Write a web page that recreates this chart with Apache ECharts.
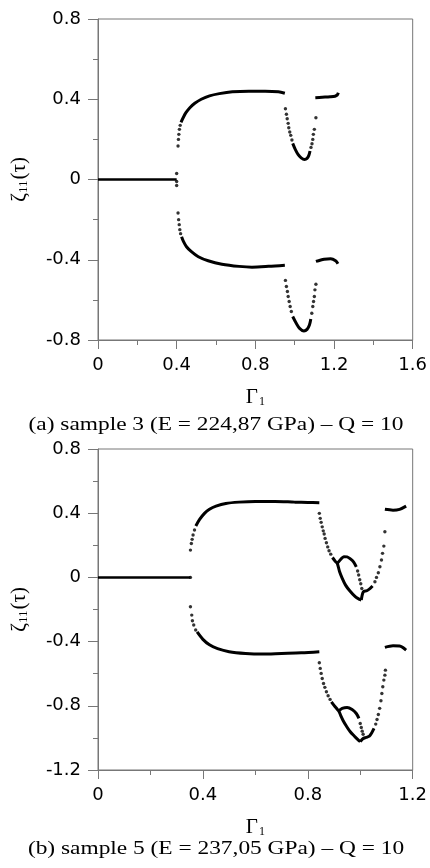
<!DOCTYPE html>
<html>
<head>
<meta charset="utf-8">
<script src="https://cdn.jsdelivr.net/npm/echarts@6/dist/echarts.min.js"></script>
<style>
html,body{margin:0;padding:0;background:#fff;}
#chart{width:430px;height:868px;}
</style>
</head>
<body>
<div id="chart"></div>
<script>
// ---------- axis ticks ----------
var xTicksA = [0, 0.4, 0.8, 1.2, 1.6];
var yTicksA = [-0.8, -0.4, 0, 0.4, 0.8];
var xTicksB = [0, 0.4, 0.8, 1.2];
var yTicksB = [-1.2, -0.8, -0.4, 0, 0.4, 0.8];

var captionA = '(a) sample 3 (E = 224,87 GPa) \u2013 Q = 10';
var captionB = '(b) sample 5 (E = 237,05 GPa) \u2013 Q = 10';

// ---------- panel (a) : sample 3 ----------
var aZero = [[0,0],[0.4,0]];
var aZeroDots = [[0.4,0.03],[0.4,-0.01],[0.4,-0.03]];
var aUpperDots = [[0.407,0.167],[0.409,0.2],[0.411,0.225],[0.414,0.25],[0.418,0.27]];
var aUpper = [[0.422,0.285],[0.433,0.308],[0.447,0.333],[0.467,0.358],[0.492,0.38],[0.525,0.40],[0.567,0.417],[0.617,0.428],[0.683,0.437],[0.767,0.44],[0.85,0.44],[0.917,0.437],[0.95,0.43]];
var aDipUpDots = [[0.953,0.353],[0.958,0.325],[0.962,0.303],[0.967,0.28],[0.97,0.258],[0.975,0.237],[0.98,0.22],[0.986,0.197],
                  [1.083,0.16],[1.088,0.178],[1.092,0.2],[1.095,0.225],[1.1,0.25],[1.108,0.308]];
var aDipUp = [[0.99,0.18],[1.003,0.15],[1.017,0.125],[1.033,0.108],[1.05,0.10],[1.063,0.105],[1.072,0.12],[1.078,0.142]];
var aUpperShort = [[1.105,0.408],[1.14,0.41],[1.18,0.412],[1.205,0.415],[1.217,0.422],[1.222,0.432]];
var aLowerDots = [[0.407,-0.167],[0.41,-0.2],[0.413,-0.225],[0.416,-0.25],[0.42,-0.27]];
var aLower = [[0.425,-0.285],[0.435,-0.31],[0.45,-0.335],[0.475,-0.36],[0.51,-0.385],[0.56,-0.405],[0.63,-0.422],[0.717,-0.433],[0.783,-0.437],[0.867,-0.433],[0.95,-0.427]];
var aDipLoDots = [[0.953,-0.503],[0.958,-0.533],[0.963,-0.558],[0.967,-0.583],[0.972,-0.608],[0.977,-0.633],[0.983,-0.658],
                  [1.087,-0.667],[1.092,-0.633],[1.096,-0.608],[1.1,-0.583],[1.103,-0.55],[1.108,-0.522]];
var aDipLo = [[0.99,-0.683],[1.008,-0.717],[1.025,-0.742],[1.047,-0.755],[1.063,-0.747],[1.075,-0.725],[1.082,-0.695]];
var aLowerShort = [[1.108,-0.408],[1.15,-0.397],[1.183,-0.395],[1.208,-0.405],[1.22,-0.42]];

// ---------- panel (b) : sample 5 ----------
var bZero = [[0,0],[0.3525,0]];
var bZeroDots = [[0.3525,0]];
var bUpperDots = [[0.3525,0.17],[0.356,0.211],[0.359,0.237],[0.3625,0.264],[0.368,0.295]];
var bUpper = [[0.373,0.32],[0.3875,0.361],[0.406,0.399],[0.425,0.424],[0.45,0.444],[0.4875,0.461],[0.5375,0.469],[0.6,0.473],[0.675,0.473],[0.75,0.469],[0.8,0.467],[0.844,0.465]];
var bDipUpDots = [[0.844,0.399],[0.8475,0.368],[0.851,0.343],[0.855,0.315],[0.859,0.29],[0.8625,0.27],[0.866,0.243],[0.871,0.216],[0.876,0.19],[0.881,0.166],[0.8875,0.145],
                  [0.99,0.04],[0.994,0.015],[0.998,-0.015],[1.002,-0.04],[1.006,-0.069],
                  [1.056,-0.027],[1.062,0.0],[1.069,0.029],[1.075,0.066],[1.081,0.108],[1.085,0.15],[1.09,0.195],[1.094,0.284]];
var bDipUp = [[0.894,0.124],[0.905,0.1],[0.9125,0.087],[0.921,0.037],[0.931,-0.004],[0.944,-0.048],[0.96,-0.083],[0.981,-0.12],[0.9975,-0.137],[1.004,-0.141]];
var bLoopUp = [[0.9125,0.087],[0.925,0.112],[0.9375,0.129],[0.95,0.128],[0.9625,0.115],[0.975,0.095],[0.985,0.065]];
var bRightUp = [[1.004,-0.141],[1.012,-0.09],[1.025,-0.083],[1.038,-0.068],[1.047,-0.054]];
var bUpperShort = [[1.094,0.424],[1.125,0.419],[1.15,0.424],[1.175,0.444]];
var bLowerDots = [[0.3525,-0.183],[0.3575,-0.235],[0.36,-0.27],[0.365,-0.297],[0.3725,-0.328]];
var bLower = [[0.378,-0.34],[0.4,-0.386],[0.425,-0.42],[0.456,-0.444],[0.5,-0.463],[0.5625,-0.474],[0.625,-0.478],[0.7,-0.474],[0.775,-0.47],[0.844,-0.463]];
var bDipLoDots = [[0.844,-0.532],[0.8475,-0.567],[0.851,-0.598],[0.855,-0.63],[0.86,-0.661],[0.865,-0.685],[0.871,-0.712],[0.8775,-0.737],[0.885,-0.76],
                  [1.0,-0.91],[1.004,-0.935],[1.0075,-0.958],[1.011,-0.977],
                  [1.059,-0.914],[1.064,-0.885],[1.069,-0.854],[1.074,-0.816],[1.079,-0.769],[1.0825,-0.723],[1.086,-0.681],[1.09,-0.64],[1.094,-0.609],[1.096,-0.578]];
var bDipLo = [[0.89,-0.775],[0.9,-0.797],[0.91,-0.817],[0.919,-0.835],[0.925,-0.858],[0.935,-0.893],[0.947,-0.926],[0.962,-0.962],[0.977,-0.988],[0.99,-1.009],[1.0,-1.024]];
var bLoopLo = [[0.919,-0.83],[0.931,-0.816],[0.95,-0.81],[0.969,-0.823],[0.985,-0.848],[0.995,-0.879]];
var bRightLo = [[1.0,-1.024],[1.01,-1.005],[1.0225,-0.997],[1.035,-0.989],[1.044,-0.968],[1.0525,-0.941]];
var bLowerShort = [[1.094,-0.436],[1.125,-0.426],[1.15,-0.428],[1.175,-0.453]];

// ---------- build ----------
var axisColor = '#777';
var labelFont = 'DejaVu Sans';

function lineS(g, data, w) {
  return { type: 'line', xAxisIndex: g, yAxisIndex: g, data: data, smooth: 0.3, symbol: 'none',
           lineStyle: { color: '#000', width: w || 3 }, silent: true, animation: false, z: 3 };
}
function dotS(g, data) {
  return { type: 'scatter', xAxisIndex: g, yAxisIndex: g, data: data, symbol: 'circle', symbolSize: 3.4,
           itemStyle: { color: '#000' }, silent: true, animation: false, z: 3 };
}
function xAxisDef(g, ticks) {
  return {
    type: 'value', gridIndex: g, min: ticks[0], max: ticks[ticks.length - 1], interval: ticks[1] - ticks[0],
    axisLine: { show: true, onZero: false, lineStyle: { color: axisColor, width: 1 } },
    axisTick: { show: true, length: 9, lineStyle: { color: axisColor } },
    minorTick: { show: true, splitNumber: 2, length: 5, lineStyle: { color: axisColor } },
    splitLine: { show: false },
    axisLabel: { color: '#000', fontFamily: labelFont, fontSize: 18, margin: 16,
                 formatter: function (v) { return String(Math.round(v * 10) / 10); } },
    name: '{g|\u0393}{s|1}', nameLocation: 'middle', nameGap: 46,
    nameTextStyle: { rich: {
      g: { fontFamily: 'Liberation Serif', fontSize: 21, color: '#000' },
      s: { fontFamily: 'Liberation Serif', fontSize: 12, color: '#000', padding: [10, 0, 0, 1] } } }
  };
}
function yAxisDef(g, ticks) {
  return {
    type: 'value', gridIndex: g, min: ticks[0], max: ticks[ticks.length - 1], interval: ticks[1] - ticks[0],
    axisLine: { show: true, onZero: false, lineStyle: { color: axisColor, width: 1 } },
    axisTick: { show: true, length: 10, lineStyle: { color: axisColor } },
    minorTick: { show: true, splitNumber: 2, length: 5, lineStyle: { color: axisColor } },
    splitLine: { show: false },
    axisLabel: { color: '#000', fontFamily: labelFont, fontSize: 18, margin: 17,
                 formatter: function (v) { return String(Math.round(v * 10) / 10); } },
    name: '{z|\u03B6}{s|11}{p|(\u03C4)}', nameLocation: 'middle', nameGap: 68, nameRotate: 90,
    nameTextStyle: { rich: {
      z: { fontFamily: 'Liberation Serif', fontSize: 22, color: '#000' },
      s: { fontFamily: 'Liberation Serif', fontSize: 13, color: '#000', padding: [9, 1, 0, 0] },
      p: { fontFamily: 'Liberation Serif', fontSize: 21, color: '#000' } } }
  };
}

var chart = echarts.init(document.getElementById('chart'), null, { renderer: 'canvas' });
chart.setOption({
  animation: false,
  backgroundColor: '#fff',
  grid: [
    { left: 95, top: 19, width: 320, height: 321, show: true, borderColor: axisColor, borderWidth: 1, backgroundColor: 'transparent' },
    { left: 95, top: 449, width: 320, height: 321, show: true, borderColor: axisColor, borderWidth: 1, backgroundColor: 'transparent' }
  ],
  xAxis: [xAxisDef(0, xTicksA), xAxisDef(1, xTicksB)],
  yAxis: [yAxisDef(0, yTicksA), yAxisDef(1, yTicksB)],
  graphic: [
    { type: 'text', x: 216, y: 425, scaleX: 1.23, style: { text: captionA, font: '19px "Liberation Serif", serif', fill: '#000', textAlign: 'center', textVerticalAlign: 'middle' } },
    { type: 'text', x: 216, y: 849, scaleX: 1.23, style: { text: captionB, font: '19px "Liberation Serif", serif', fill: '#000', textAlign: 'center', textVerticalAlign: 'middle' } }
  ],
  series: [
    lineS(0, aZero, 2.5), dotS(0, aZeroDots), dotS(0, aUpperDots), lineS(0, aUpper),
    dotS(0, aDipUpDots), lineS(0, aDipUp), lineS(0, aUpperShort),
    dotS(0, aLowerDots), lineS(0, aLower), dotS(0, aDipLoDots), lineS(0, aDipLo), lineS(0, aLowerShort),

    lineS(1, bZero, 2.5), dotS(1, bZeroDots), dotS(1, bUpperDots), lineS(1, bUpper),
    dotS(1, bDipUpDots), lineS(1, bDipUp), lineS(1, bLoopUp), lineS(1, bRightUp), lineS(1, bUpperShort),
    dotS(1, bLowerDots), lineS(1, bLower), dotS(1, bDipLoDots), lineS(1, bDipLo), lineS(1, bLoopLo),
    lineS(1, bRightLo), lineS(1, bLowerShort)
  ]
});
</script>
</body>
</html>
